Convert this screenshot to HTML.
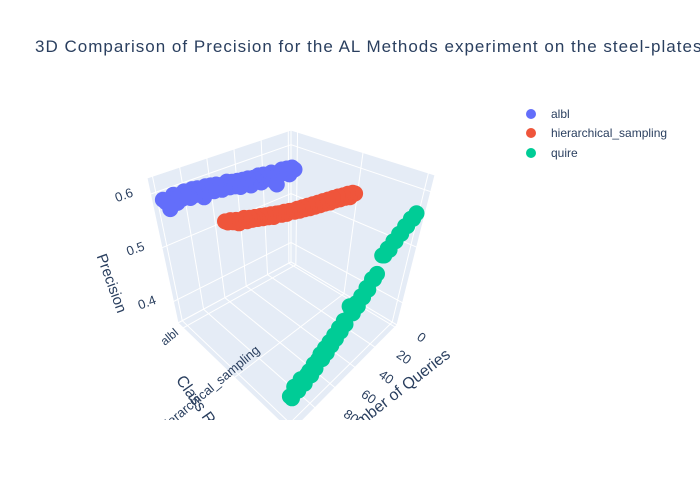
<!DOCTYPE html>
<html><head><meta charset="utf-8"><style>
html,body{margin:0;padding:0;background:#fff;}
svg{display:block;font-family:"Liberation Sans",sans-serif;}
</style></head><body>
<svg id="chart" width="700" height="500" viewBox="0 0 700 500" xmlns="http://www.w3.org/2000/svg">
<rect width="700" height="500" fill="#fff"/>
<text x="35" y="52" font-size="17" fill="#2a3f5f" textLength="735" lengthAdjust="spacing">3D Comparison of Precision for the AL Methods experiment on the steel-plates dataset</text>
<defs><clipPath id="sceneClip"><rect x="0" y="60" width="500" height="360"/></clipPath></defs>
<g id="scene" clip-path="url(#sceneClip)"></g>
<g>
<g><circle cx="531" cy="114" r="5" fill="#636efa"/><text x="551" y="118" font-size="12" fill="#2a3f5f">albl</text></g>
<g><circle cx="531" cy="133" r="5" fill="#ef553b"/><text x="551" y="137" font-size="12" fill="#2a3f5f">hierarchical_sampling</text></g>
<g><circle cx="531" cy="153" r="5" fill="#00cc96"/><text x="551" y="157" font-size="12" fill="#2a3f5f">quire</text></g>
</g>
</svg>
<script>
const categories = ["albl","hierarchical_sampling","quire"];
const queries = [0,2,4,6,8,10,12,14,16,18,20,22,24,26,28,30,32,34,36,38,40,42,44,46,48,50,52,54,56,58,60,62,64,66,68,70,72,74,76,78,80,82,84,86,88,90,92,94,96,98,100];
const alblPrecision = [0.556,0.562,0.550,0.564,0.557,0.566,0.559,0.540,0.548,0.568,0.560,0.566,0.570,0.556,0.572,0.565,0.571,0.558,0.574,0.566,0.575,0.563,0.577,0.568,0.579,0.570,0.583,0.574,0.571,0.582,0.585,0.574,0.587,0.578,0.589,0.570,0.583,0.591,0.580,0.593,0.578,0.589,0.594,0.582,0.591,0.578,0.595,0.588,0.572,0.586,0.593];
const hsPrecision = [0.554,0.558,0.552,0.561,0.556,0.563,0.558,0.566,0.561,0.568,0.562,0.570,0.565,0.572,0.567,0.574,0.569,0.576,0.571,0.578,0.574,0.580,0.576,0.582,0.579,0.583,0.585,0.582,0.588,0.585,0.590,0.592,0.588,0.595,0.592,0.598,0.595,0.601,0.598,0.604,0.601,0.607,0.603,0.611,0.609,0.606,0.614,0.612,0.618,0.616,0.620];
const quirePrecision = [0.560,0.553,0.556,0.546,0.549,0.538,0.541,0.531,0.534,0.522,0.527,0.518,0.521,0.492,0.486,0.489,0.474,0.480,0.467,0.472,0.458,0.466,0.452,0.460,0.470,0.443,0.452,0.437,0.446,0.431,0.440,0.426,0.435,0.420,0.431,0.416,0.427,0.421,0.410,0.420,0.405,0.415,0.412,0.401,0.409,0.414,0.399,0.406,0.411,0.396,0.402];
const zTicks = [0.4,0.5,0.6];
const xTicks = [0,20,40,60,80,100];

const X0=-2,X1=104,Y0=-0.1,Y1=2.1,Z0=0.36,Z1=0.63;
const C={
 "000":[291,262],"001":[291,130],
 "100":[178,323],"101":[147,178],
 "010":[397,325],"011":[435,175],
 "110":[291,432],"111":[291,258]};
function lerp(a,b,t){return [a[0]+(b[0]-a[0])*t,a[1]+(b[1]-a[1])*t];}
function proj(x,y,z){
 const u=(x-X0)/(X1-X0),v=(y-Y0)/(Y1-Y0),w=(z-Z0)/(Z1-Z0);
 const b=lerp(lerp(C["000"],C["100"],u),lerp(C["010"],C["110"],u),v);
 const t=lerp(lerp(C["001"],C["101"],u),lerp(C["011"],C["111"],u),v);
 return lerp(b,t,w);
}
const NS="http://www.w3.org/2000/svg";
const scene=document.getElementById('scene');
function mk(tag,attrs,parent){const e=document.createElementNS(NS,tag);for(const k in attrs)e.setAttribute(k,attrs[k]);(parent||scene).appendChild(e);return e;}
function poly(pts){return pts.map(p=>p.join(',')).join(' ');}
let w1=mk('polygon',{points:poly([proj(X0,Y0,Z0),proj(X1,Y0,Z0),proj(X1,Y0,Z1),proj(X0,Y0,Z1)]),fill:'#e5ecf6',stroke:'#fff','stroke-width':1});


let w2=mk('polygon',{points:poly([proj(X0,Y0,Z0),proj(X0,Y1,Z0),proj(X0,Y1,Z1),proj(X0,Y0,Z1)]),fill:'#e5ecf6',stroke:'#fff','stroke-width':1});


let fl=mk('polygon',{points:poly([proj(X0,Y0,Z0),proj(X1,Y0,Z0),proj(X1,Y1,Z0),proj(X0,Y1,Z0)]),fill:'#e5ecf6',stroke:'#fff','stroke-width':1});


function line(a,b,name){const l=mk('line',{x1:a[0],y1:a[1],x2:b[0],y2:b[1],stroke:'#fff','stroke-width':1});}
zTicks.forEach(z=>{line(proj(X0,Y0,z),proj(X1,Y0,z),'z-grid');line(proj(X0,Y0,z),proj(X0,Y1,z),'z-grid');});
xTicks.forEach(x=>{line(proj(x,Y0,Z0),proj(x,Y0,Z1),'x-grid');line(proj(x,Y0,Z0),proj(x,Y1,Z0),'x-grid');});
categories.forEach((c,i)=>{line(proj(X0,i,Z0),proj(X0,i,Z1),'y-grid');line(proj(X0,i,Z0),proj(X1,i,Z0),'y-grid');});
function txt(s,x,y,rot,anchor,name,size){const t=mk('text',{x:x,y:y,'font-size':size||12,fill:'#2a3f5f','text-anchor':anchor||'middle',transform:`rotate(${rot||0} ${x} ${y})`});t.textContent=s;return t;}
zTicks.forEach(z=>{const p=proj(X1,Y0,z);txt(z.toFixed(1),p[0]-25,p[1]+5,-20,'middle','z-tick-label',13);});
xTicks.forEach(x=>{if(x>90)return;const p=proj(x,Y1,Z0);txt(String(x),p[0]+24+x*0.12,p[1]+14-x*0.02,35,'middle','x-tick-label',13);});
categories.forEach((c,i)=>{if(i>1)return;const p=proj(X1,i,Z0);txt(c,p[0]-4+i*30,p[1]+6-i*32,-40,'end','y-tick-label',i?13:12);});
txt('Precision',107,285,70,'middle','z-axis-title',15);
txt('Number of Queries',398,398,-38,'middle','x-axis-title',16);
txt('Class Rate',198,412,55,'middle','y-axis-title',16);
function series(vals,cat,color,name){const g=mk('g',{});
 vals.forEach((v,i)=>{const p=proj(queries[i],cat,v);const c=mk('circle',{cx:p[0].toFixed(1),cy:p[1].toFixed(1),r:8,fill:color},g);});}
series(alblPrecision,0,'#636efa','series-albl');
series(hsPrecision,1,'#ef553b','series-hierarchical-sampling');
series(quirePrecision,2,'#00cc96','series-quire');
</script>
</body></html>
